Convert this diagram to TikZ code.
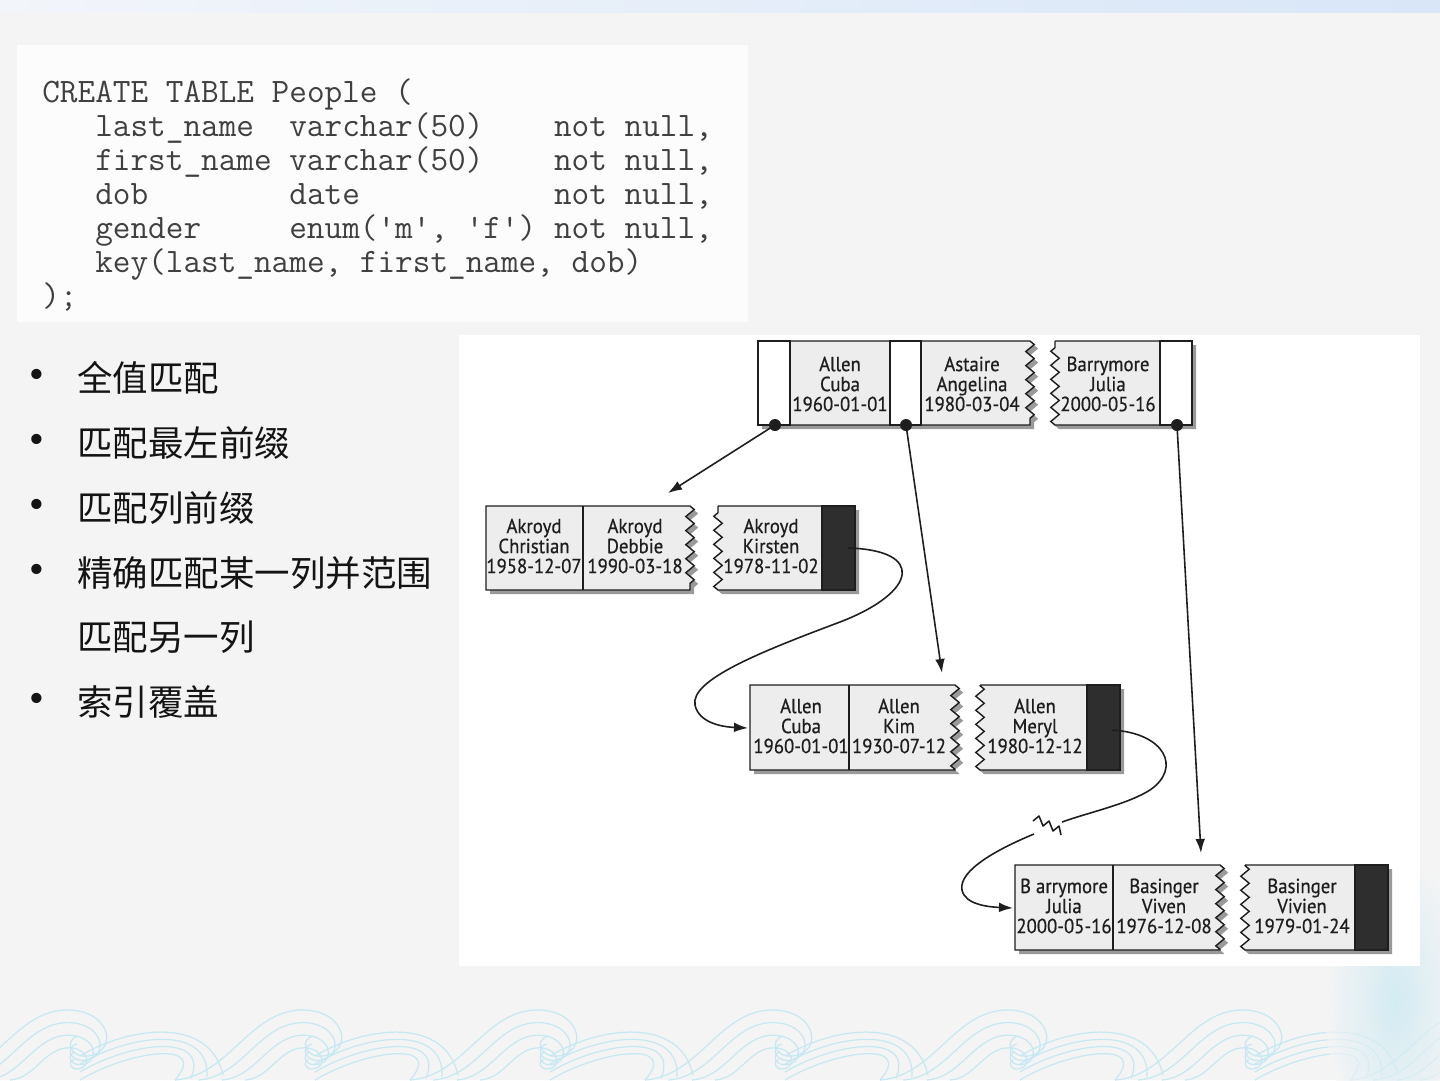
\documentclass[tikz,border=0pt]{standalone}
\usepackage{fontspec}
\newfontfamily\cjkfont{Noto Sans CJK SC}
\newfontfamily\bulfont{DejaVu Sans}
\newfontfamily\boxfont[FakeStretch=0.92,FakeBold=0.6]{PT Sans}
\usetikzlibrary{decorations.pathmorphing,arrows.meta}
\definecolor{bgc}{HTML}{F4F4F4}
\definecolor{codebg}{HTML}{FCFCFC}
\definecolor{codetxt}{HTML}{404040}
\definecolor{bandL}{HTML}{F2F5FA}
\definecolor{bandR}{HTML}{D8E6F8}
\definecolor{wavec}{HTML}{C6E8F3}
\definecolor{keyc}{HTML}{EDEDED}
\definecolor{darkc}{HTML}{2E2E2E}
\definecolor{shadowc}{HTML}{9A9A9A}
\definecolor{inkc}{HTML}{1E1E1E}
\tikzset{
  zz/.style={decoration={zigzag,segment length=8pt,amplitude=2.4pt}},
  boxline/.style={draw=inkc,line width=0.8pt},
  keytxt/.style={font=\boxfont\fontsize{11.6}{11.4}\selectfont,align=center,inner sep=0pt,text=inkc},
  codeline/.style={font=\ttfamily\fontsize{19.5}{22}\selectfont,anchor=base west,inner sep=0pt,text=codetxt},
  bul/.style={font=\cjkfont\fontsize{20.2}{24}\selectfont,anchor=west,inner sep=0pt,text=black!92},
  buldot/.style={font=\bulfont\fontsize{20}{24}\selectfont,anchor=center,inner sep=0pt,text=black!92},
  conn/.style={draw=inkc,line width=0.9pt,-{Latex[length=8pt,width=5.5pt]}},
  connline/.style={draw=inkc,line width=0.9pt},
  wave/.style={draw=wavec,line width=0.7pt}
}
\newcommand\zzR[4]{%
  \fill[shadowc,shift={(4,4)}] (#1,#3) -- (#2,#3) decorate[zz]{-- (#2,#4)} -- (#1,#4) -- cycle;
  \filldraw[boxline,fill=keyc] (#1,#3) -- (#2,#3) decorate[zz]{-- (#2,#4)} -- (#1,#4) -- cycle;}
\newcommand\zzL[4]{%
  \fill[shadowc,shift={(4,4)}] (#1,#3) -- (#2,#3) -- (#2,#4) -- (#1,#4) decorate[zz]{-- (#1,#3)} -- cycle;
  \filldraw[boxline,fill=keyc] (#1,#3) -- (#2,#3) -- (#2,#4) -- (#1,#4) decorate[zz]{-- (#1,#3)} -- cycle;}
\begin{document}
\begin{tikzpicture}[x=0.02cm,y=-0.02cm]
\useasboundingbox (0,0) rectangle (1440,1080);
% background
\fill[bgc] (0,0) rectangle (1440,1080);
\shade[left color=bandL,right color=bandR] (0,0) rectangle (1440,12);
% waves
\foreach \cx in {70,305,540,775,1010,1245,1480}{
  \begin{scope}[shift={(\cx,1080)}]
    \foreach \s in {1,0.82,0.64,0.46}{
      \draw[wave,scale=\s] (-130,0) .. controls (-75,-4) and (-55,-72) .. (0,-70) .. controls (42,-68) and (48,-28) .. (18,-24) .. controls (0,-22) and (-6,-40) .. (8,-44);
    }
    \foreach \d in {0,8,16,24}{
      \draw[wave] (10,-\d) .. controls (60,-30-\d) and (140,-40-\d) .. (235-130+\d*2,0-\d*0.2);
    }
  \end{scope}
}
\shade[inner color=wavec,outer color=bgc,opacity=0.7] (1395,1000) ellipse (70 and 150);
% panels
\fill[codebg] (17,45) rectangle (748,322);
\fill[white] (459,335) rectangle (1420,966);
% code
\node[codeline] (c1) at (42,102) {CREATE TABLE People (};
\node[codeline] (c2) at (42,136) {~~~last\_name~~varchar(50)~~~~not null,};
\node[codeline] (c3) at (42,170) {~~~first\_name varchar(50)~~~~not null,};
\node[codeline] (c4) at (42,204) {~~~dob~~~~~~~~date~~~~~~~~~~~not null,};
\node[codeline] (c5) at (42,238) {~~~gender~~~~~enum('m', 'f') not null,};
\node[codeline] (c6) at (42,272) {~~~key(last\_name, first\_name, dob)};
\node[codeline] (c7) at (42,306) {);};
% bullets
\foreach \y/\t/\n in {378/全值匹配/1,443/匹配最左前缀/2,508/匹配列前缀/3,573/精确匹配某一列并范围/4,702/索引覆盖/6}{
  \node[buldot] (b\n) at (37,\y) {•};
  \node[bul] (t\n) at (77,\y) {\t};
}
\node[bul] (t5) at (77,637) {匹配另一列};
% ---- tree: root
\zzR{758}{1030}{341}{425}
\filldraw[boxline,fill=white] (758,341) rectangle (790,425);
\filldraw[boxline,fill=white] (890,341) rectangle (921,425);
\zzL{1055}{1192}{341}{425}
\filldraw[boxline,fill=white] (1160,341) rectangle (1192,425);
\node[keytxt] (r1) at (840,384) {Allen\\Cuba\\1960-01-01};
\node[keytxt] (r2) at (972,384) {Astaire\\Angelina\\1980-03-04};
\node[keytxt] (r3) at (1108,384) {Barrymore\\Julia\\2000-05-16};
% level 2
\zzR{486}{690}{506}{590}
\draw[boxline] (583,506) -- (583,590);
\zzL{718}{855}{506}{590}
\filldraw[boxline,fill=darkc] (822,506) rectangle (855,590);
\node[keytxt] (a1) at (534,546) {Akroyd\\Christian\\1958-12-07};
\node[keytxt] (a2) at (635,546) {Akroyd\\Debbie\\1990-03-18};
\node[keytxt] (a3) at (771,546) {Akroyd\\Kirsten\\1978-11-02};
% level 3
\zzR{750}{955}{685}{770}
\draw[boxline] (849,685) -- (849,770);
\zzL{980}{1120}{685}{770}
\filldraw[boxline,fill=darkc] (1087,685) rectangle (1120,770);
\node[keytxt] (l1) at (801,726) {Allen\\Cuba\\1960-01-01};
\node[keytxt] (l2) at (899,726) {Allen\\Kim\\1930-07-12};
\node[keytxt] (l3) at (1035,726) {Allen\\Meryl\\1980-12-12};
% level 4
\zzR{1015}{1220}{865}{950}
\draw[boxline] (1113,865) -- (1113,950);
\zzL{1245}{1388}{865}{950}
\filldraw[boxline,fill=darkc] (1355,865) rectangle (1388,950);
\node[keytxt] (m1) at (1064,906) {B arrymore\\Julia\\2000-05-16};
\node[keytxt] (m2) at (1164,906) {Basinger\\Viven\\1976-12-08};
\node[keytxt] (m3) at (1302,906) {Basinger\\Vivien\\1979-01-24};
% pointer coordinates
\coordinate (p1) at (775,425);
\coordinate (p2) at (906,425);
\coordinate (p3) at (1177,425);
\coordinate (q1) at (668,493);
\coordinate (q2) at (942,673);
\coordinate (q3) at (1201,853);
\coordinate (n1) at (848,548);
\coordinate (e1) at (748,728);
\coordinate (n2) at (1112,730);
\coordinate (e2) at (1013,908);
\coordinate (z1) at (1062,822);
\coordinate (z2) at (1034,834);
% connectors
\draw[conn] (p1) -- (q1);
\draw[conn] (p2) -- (q2);
\draw[conn] (p3) -- (q3);
\draw[conn] (n1) .. controls (925,550) and (918,592) .. (840,622) .. controls (760,652) and (690,680) .. (695,705) .. controls (699,724) and (725,727) .. (e1);
\draw[connline] (n2) .. controls (1165,733) and (1182,768) .. (1150,790) .. controls (1128,804) and (1090,812) .. (z1);
\draw[conn] (z2) .. controls (1000,848) and (958,870) .. (962,890) .. controls (965,905) and (990,907) .. (e2);
\draw[connline,line join=round] (1033,821) -- (1039,816) -- (1043,826) -- (1049,821) -- (1053,831) -- (1059,826) -- (1061,835);
\fill[inkc] (p1) circle[radius=6];
\fill[inkc] (p2) circle[radius=6];
\fill[inkc] (p3) circle[radius=6];
\end{tikzpicture}
\end{document}
